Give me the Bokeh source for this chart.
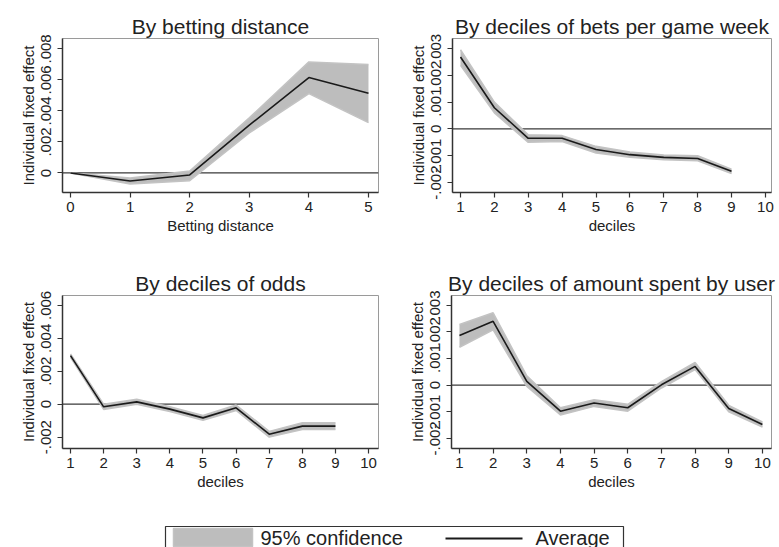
from bokeh.plotting import figure
from bokeh.layouts import column, row
from bokeh.models import Range1d, FixedTicker, CustomJSTickFormatter, Span, ColumnDataSource
from bokeh.embed import file_html
from bokeh.resources import INLINE
from bokeh.core.properties import value

FONT = "Liberation Sans"
TXT = "#222222"

# ---- data ----
dist_x = [0, 1, 2, 3, 4, 5]
dist_avg = [0.0, -0.00052, -0.00013, 0.00308, 0.00615, 0.00514]
dist_lo = [0.0, -0.00071, -0.00050, 0.00258, 0.00512, 0.00325]
dist_hi = [0.0, -0.00032, 0.00013, 0.00355, 0.00716, 0.00700]

bets_x = [1, 2, 3, 4, 5, 6, 7, 8, 9]
bets_avg = [0.00268, 0.00079, -0.00035, -0.00035, -0.00077, -0.00096, -0.00106, -0.00110, -0.00158]
bets_lo = [0.00237, 0.00060, -0.00050, -0.00047, -0.00090, -0.00106, -0.00115, -0.00119, -0.00166]
bets_hi = [0.00295, 0.00100, -0.00022, -0.00025, -0.00065, -0.00086, -0.00097, -0.00100, -0.00150]

odds_x = [1, 2, 3, 4, 5, 6, 7, 8, 9]
odds_avg = [0.00295, -0.00016, 0.00014, -0.00030, -0.00083, -0.00022, -0.00182, -0.00133, -0.00133]
odds_lo = [0.00285, -0.00032, 0.00000, -0.00045, -0.00098, -0.00038, -0.00200, -0.00153, -0.00153]
odds_hi = [0.00305, 0.00000, 0.00030, -0.00015, -0.00068, -0.00005, -0.00165, -0.00112, -0.00112]

amt_x = [1, 2, 3, 4, 5, 6, 7, 8, 9, 10]
amt_avg = [0.00186, 0.00239, 0.00014, -0.00098, -0.00067, -0.00085, 0.00001, 0.00070, -0.00088, -0.00148]
amt_lo = [0.00142, 0.00207, -0.00005, -0.00112, -0.00080, -0.00098, -0.00011, 0.00058, -0.00100, -0.00158]
amt_hi = [0.00227, 0.00271, 0.00035, -0.00085, -0.00055, -0.00072, 0.00013, 0.00085, -0.00076, -0.00138]

dist_ticks = [0, 1, 2, 3, 4, 5]
dec_ticks = [1, 2, 3, 4, 5, 6, 7, 8, 9, 10]
y1_ticks = [0, 0.002, 0.004, 0.006, 0.008]
y2_ticks = [-0.002, -0.001, 0, 0.001, 0.002, 0.003]
y3_ticks = [-0.002, 0, 0.002, 0.004, 0.006]

legend_labels = ["95% confidence", "Average"]

fmt = CustomJSTickFormatter(code="""
    const v = parseFloat(tick.toFixed(4));
    if (v === 0) return "0";
    return v.toString().replace("0.", ".");
""")


def make_panel(title, xs, avg, lo, hi, xr, yr, xticks, yticks, xlabel,
               width, height, bl, br, bt, bb):
    p = figure(width=width, height=height, output_backend="svg", toolbar_location=None,
               x_range=Range1d(*xr), y_range=Range1d(*yr), title=title,
               min_border_left=bl, min_border_right=br, min_border_top=bt, min_border_bottom=bb)
    p.background_fill_color = "white"
    p.border_fill_color = "white"
    p.outline_line_color = "#9a9a9a"
    p.outline_line_width = 1
    p.grid.visible = False

    p.title.text_font = FONT
    p.title.text_font_size = "21px"
    p.title.text_font_style = "normal"
    p.title.text_color = TXT
    p.title.align = "center"
    p.title.standoff = 1

    src = ColumnDataSource(dict(x=xs, avg=avg, lo=lo, hi=hi))
    zero = Span(location=0, dimension="width", line_color="#3a3a3a", line_width=1.3, level="underlay")
    p.add_layout(zero)
    p.varea(x="x", y1="lo", y2="hi", source=src, fill_color="#bdbdbd")
    p.line(x="x", y="lo", source=src, line_color="#c3c3c3", line_width=1.5)
    p.line(x="x", y="hi", source=src, line_color="#c3c3c3", line_width=1.5)
    p.line(x="x", y="avg", source=src, line_color="#1a1a1a", line_width=1.6)

    for ax in (p.xaxis[0], p.yaxis[0]):
        ax.axis_line_color = "#333333"
        ax.axis_line_width = 1.5
        ax.major_tick_line_color = "#333333"
        ax.major_tick_line_width = 1.2
        ax.major_tick_out = 5
        ax.major_tick_in = 0
        ax.minor_tick_line_color = None
        ax.major_label_text_font = FONT
        ax.major_label_text_font_size = "15px"
        ax.major_label_text_color = TXT
        ax.axis_label_text_font = FONT
        ax.axis_label_text_font_size = "15px"
        ax.axis_label_text_font_style = "normal"
        ax.axis_label_text_color = TXT
        ax.axis_label_standoff = 2
    p.xaxis.major_label_standoff = 4
    p.yaxis.major_label_standoff = 6

    p.xaxis.ticker = FixedTicker(ticks=xticks)
    p.yaxis.ticker = FixedTicker(ticks=yticks)
    p.yaxis.formatter = fmt
    p.yaxis.major_label_orientation = "vertical"
    p.xaxis.axis_label = xlabel
    p.yaxis.axis_label = "Individual fixed effect"
    return p


p1 = make_panel("By betting distance", dist_x, dist_avg, dist_lo, dist_hi,
                (-0.134, 5.168), (-0.00126, 0.00867), dist_ticks, y1_ticks, "Betting distance",
                390, 243, 62, 12, 38, 51)
p2 = make_panel("By deciles of bets per game week", bets_x, bets_avg, bets_lo, bets_hi,
                (0.764, 10.18), (-0.00237, 0.00337), dec_ticks, y2_ticks, "deciles",
                389, 243, 62, 8, 38, 51)
p3 = make_panel("By deciles of odds", odds_x, odds_avg, odds_lo, odds_hi,
                (0.758, 10.3), (-0.00269, 0.0066), dec_ticks, y3_ticks, "deciles",
                390, 252, 62, 12, 52, 47)
p4 = make_panel("By deciles of amount spent by user", amt_x, amt_avg, amt_lo, amt_hi,
                (0.763, 10.27), (-0.00238, 0.00336), dec_ticks, y2_ticks, "deciles",
                389, 252, 61, 8, 52, 47)

# ---- legend strip (drawn in pixel units, top-down) ----
leg = figure(width=779, height=52, output_backend="svg", toolbar_location=None,
             x_range=Range1d(0, 779), y_range=Range1d(52, 0),
             min_border_left=0, min_border_right=0, min_border_top=0, min_border_bottom=0)
leg.axis.visible = False
leg.grid.visible = False
leg.outline_line_color = None
leg.background_fill_color = "white"
leg.border_fill_color = "white"
box_l, box_r, box_t = 165, 623, 31
leg.multi_line(xs=[[box_l, box_l, box_r, box_r]], ys=[[70, box_t, box_t, 70]],
               line_color="#333333", line_width=1.2)
leg.quad(left=[box_l + 8], right=[box_l + 87], top=[box_t + 2], bottom=[box_t + 20],
         fill_color="#bdbdbd", line_color="#c3c3c3", line_width=1.5)
leg.line(x=[box_l + 280, box_l + 357], y=[box_t + 12, box_t + 12], line_color="#1a1a1a", line_width=1.8)
leg.text(x=[box_l + 95, box_l + 370], y=[box_t + 11, box_t + 11], text=legend_labels,
         text_font=value(FONT), text_font_size="20px", text_color=TXT,
         text_baseline="middle", text_align="left")

layout = column(row(p1, p2), row(p3, p4), leg)
open("out.html", "w").write(file_html(layout, INLINE))
